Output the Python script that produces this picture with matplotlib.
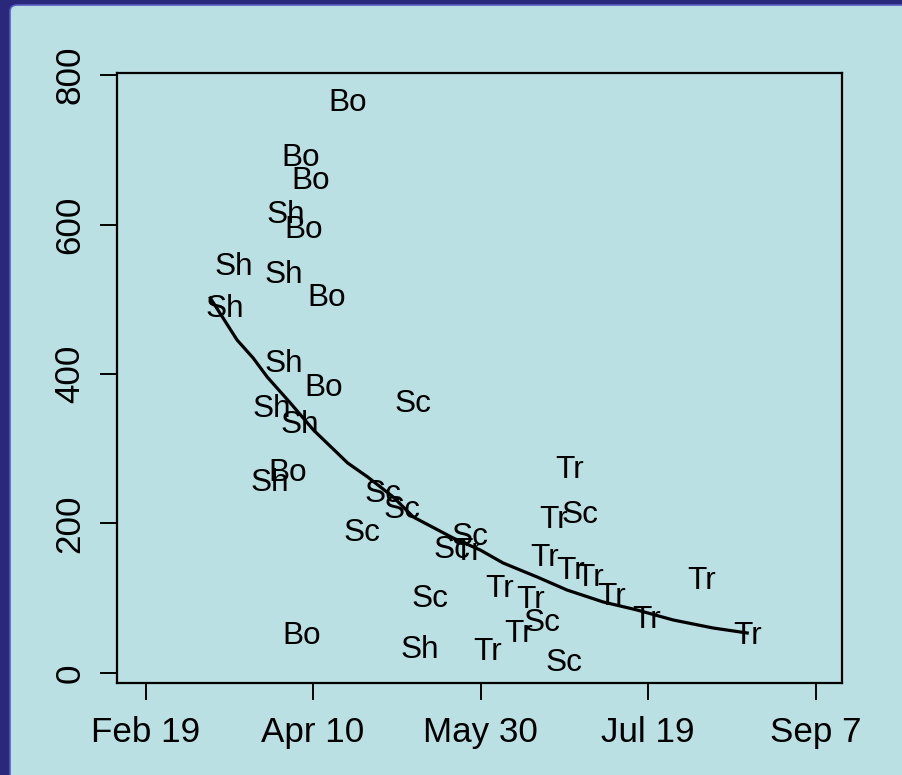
import matplotlib
matplotlib.use("Agg")
import matplotlib.pyplot as plt
from matplotlib.patches import FancyBboxPatch

plt.rcParams['font.family'] = ['Liberation Sans', 'DejaVu Sans']

# ---- data (x = day of year, y = value) ----
bo_x = [110.4, 96.4, 99.3, 97.3, 104.0, 103.3, 92.5, 96.7]
bo_y = [766.6, 693.0, 663.5, 598.0, 505.7, 385.3, 272.9, 53.5]

sh_x = [91.9, 76.4, 91.3, 73.7, 91.3, 87.8, 96.1, 87.2, 131.9]
sh_y = [618.0, 548.5, 537.8, 492.3, 417.4, 358.5, 335.8, 259.5, 34.8]

sc_x = [129.9, 120.9, 126.6, 114.6, 146.9, 141.5, 179.7, 134.9, 168.4, 174.9]
sc_y = [363.9, 244.8, 223.4, 192.6, 186.0, 168.6, 215.4, 104.3, 70.9, 18.7]

tr_x = [176.7, 171.9, 146.0, 169.0, 177.0, 182.7, 189.0, 216.1, 155.8, 164.8,
        199.7, 229.6, 161.5, 152.2]
tr_y = [275.6, 208.7, 165.9, 157.9, 140.5, 131.1, 107.0, 127.1, 117.7, 101.7,
        74.9, 54.8, 57.5, 32.1]

curve_x = [69.3, 77.3, 82.1, 86.3, 93.2, 100.1, 110.3, 116.3, 123.9, 129.9,
           141.8, 149.9, 156.7, 166.9, 175.8, 186.6, 196.7, 207.5, 219.4, 229.6]
curve_y = [501.7, 445.5, 421.4, 396.0, 361.2, 325.1, 281.0, 262.2, 235.5, 208.7,
           180.6, 164.5, 147.2, 128.4, 111.0, 95.0, 84.3, 70.9, 60.2, 53.5]

x_ticks = [50, 100, 150, 200, 250]
x_tick_labels = ["Feb 19", "Apr 10", "May 30", "Jul 19", "Sep 7"]
y_ticks = [0, 200, 400, 600, 800]
y_tick_labels = ["0", "200", "400", "600", "800"]

W, H = 903, 775
fig = plt.figure(figsize=(W / 100, H / 100), dpi=100)
fig.patch.set_facecolor('#29287a')

panel = FancyBboxPatch((10 / W, -0.1), 1.2, 1.1 - 5 / H,
                       boxstyle="round,pad=0,rounding_size=0.008",
                       transform=fig.transFigure, facecolor='#bae0e3',
                       edgecolor='#5a5ac0', linewidth=1.2, zorder=-10)
fig.patches.append(panel)

ax = fig.add_axes([117.5 / W, (H - 683) / H, (842 - 117.5) / W, (683 - 73) / H])
ax.set_zorder(5)
ax.set_facecolor('none')
ax.set_xlim(41.6, 257.9)
ax.set_ylim(-13.4, 802.7)

fs_pts = 22.7
for xs, ys, lab in [(bo_x, bo_y, "Bo"), (sh_x, sh_y, "Sh"),
                    (sc_x, sc_y, "Sc"), (tr_x, tr_y, "Tr")]:
    for x, y in zip(xs, ys):
        ax.text(x, y, lab, ha='center', va='center_baseline',
                fontsize=fs_pts, color='black')

ax.plot(curve_x, curve_y, color='black', lw=2.3, solid_joinstyle='round')

for s in ax.spines.values():
    s.set_linewidth(1.6)
    s.set_color('black')

ax.set_xticks(x_ticks)
ax.set_xticklabels(x_tick_labels)
ax.set_yticks(y_ticks)
ax.set_yticklabels(y_tick_labels)
ax.tick_params(axis='both', direction='out', length=12.5, width=1.4,
               color='black', labelsize=25.2, labelcolor='black')
ax.tick_params(axis='x', pad=11.5)
ax.tick_params(axis='y', pad=10, labelrotation=90)
for lab in ax.get_yticklabels():
    lab.set_va('center')
    lab.set_ha('right')

fig.savefig("out.png", dpi=100, facecolor=fig.get_facecolor())
